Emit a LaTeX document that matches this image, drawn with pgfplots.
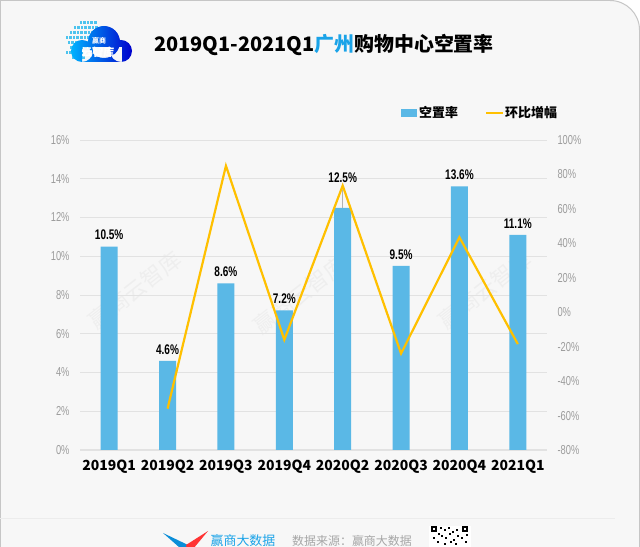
\documentclass[border=0pt]{standalone}
\usepackage{fontspec}
\usepackage{pgfplots}
\pgfplotsset{compat=1.18}
\setmainfont{Noto Sans CJK SC}
\newfontfamily\narrow[FakeStretch=0.72]{Liberation Sans}
\definecolor{barblue}{HTML}{5AB8E6}
\definecolor{linegold}{HTML}{FFC000}
\definecolor{titleblue}{HTML}{1AA3E8}
\definecolor{bggray}{HTML}{F7F7F7}
\definecolor{ticklab}{HTML}{9C9C9C}
\definecolor{gridc}{HTML}{E2E2E2}
\definecolor{dotcyan}{HTML}{4CC3EE}

\begin{document}
\begin{tikzpicture}[x=1bp,y=1bp]
\useasboundingbox (0,0) rectangle (640,547);
\clip (0,0) rectangle (640,547);
% frame
\fill[white] (0,0) rectangle (640,547);
\filldraw[fill=bggray, draw=gray!45, line width=1bp]
  (0.5,-5) -- (0.5,546.5) -- (610,546.5) arc[start angle=90, end angle=0, radius=29.5] -- (639.5,-5) -- cycle;

% watermarks
\foreach \px/\py in {135/257, 300/252, 485/257}
  \node[rotate=38, text=gray, opacity=0.07, font=\fontsize{22}{24}\selectfont] at (\px,\py) {赢商云智库};

% logo
\foreach \dx/\dy/\n in {76/523/5, 70/518/7, 66/513/8, 62/508/9, 64/503/7, 66/498/6, 62/493/5, 68/488/4}
  \foreach \k in {1,...,\n}
    \fill[dotcyan] ({\dx+3.6*\k},\dy) rectangle ++(2.6,2.6);
\shade[left color=cyan!70!blue, right color=blue!80!black]
  (104,505) circle (16) (121,496) circle (11) (82,496) circle (11) (82,485) rectangle (122,500);
\node[text=white, font=\fontsize{7}{8}\selectfont\bfseries] at (99,506) {赢商};
\node[text=white, font=\fontsize{11}{12}\selectfont\bfseries] at (98,495) {云智库};

% title
\node[font=\fontsize{20}{24}\selectfont\bfseries] at (324,502)
  {2019Q1-2021Q1\textcolor{titleblue}{广州}购物中心空置率};

% legend
\fill[barblue] (401,430) rectangle (417,438);
\node[anchor=west, inner sep=0, font=\fontsize{13}{15}\selectfont\bfseries] at (419,434) {空置率};
\draw[linegold, line width=2bp] (486,434) -- (503,434);
\node[anchor=west, inner sep=0, font=\fontsize{13}{15}\selectfont\bfseries] at (505,434) {环比增幅};

\begin{axis}[
  at={(80bp,97bp)}, anchor=south west,
  width=467bp, height=310bp, scale only axis,
  xmin=-0.5, xmax=7.5, ymin=0, ymax=16,
  axis x line*=bottom, axis y line*=left,
  y axis line style={draw=none},
  x axis line style={draw=gridc, line width=1bp},
  major tick length=0pt,
  ymajorgrids, grid style={gridc, line width=0.8bp},
  xtick={0,...,7},
  xticklabels={2019Q1,2019Q2,2019Q3,2019Q4,2020Q2,2020Q3,2020Q4,2021Q1},
  xticklabel style={font=\fontsize{14}{16}\selectfont\bfseries, text=black, yshift=-6bp},
  ytick={0,2,4,6,8,10,12,14,16},
  yticklabels={0\%,2\%,4\%,6\%,8\%,10\%,12\%,14\%,16\%},
  yticklabel style={font=\narrow\fontsize{13}{15}\selectfont, text=ticklab, xshift=-7bp},
  clip=false,
]
\addplot[ybar, bar width=17bp, fill=barblue, draw=none,
  point meta=explicit symbolic,
  nodes near coords={\pgfplotspointmeta},
  every node near coord/.append style={font=\narrow\bfseries\fontsize{14}{16}\selectfont, text=black, yshift=3bp}]
  coordinates {
  (0,10.5) [10.5\%]
  (1,4.6)  [4.6\%]
  (2,8.6)  [8.6\%]
  (3,7.2)  [7.2\%]
  (4,12.5) []
  (5,9.5)  [9.5\%]
  (6,13.6) [13.6\%]
  (7,11.1) [11.1\%]
};
\draw[gray!60, line width=0.6bp] (axis cs:4,12.5) -- (axis cs:4,13.4);
\addplot[draw=none, mark=none,
  point meta=explicit symbolic,
  nodes near coords={\pgfplotspointmeta},
  every node near coord/.append style={font=\narrow\bfseries\fontsize{14}{16}\selectfont, text=black, yshift=3bp}]
  coordinates {(4,13.45) [12.5\%]};
\end{axis}

\begin{axis}[
  at={(80bp,97bp)}, anchor=south west,
  width=467bp, height=310bp, scale only axis,
  xmin=-0.5, xmax=7.5, ymin=-80, ymax=100,
  axis x line=none, axis y line*=right,
  y axis line style={draw=none},
  major tick length=0pt,
  ytick={-80,-60,-40,-20,0,20,40,60,80,100},
  yticklabels={-80\%,-60\%,-40\%,-20\%,0\%,20\%,40\%,60\%,80\%,100\%},
  yticklabel style={font=\narrow\fontsize{13}{15}\selectfont, text=ticklab, xshift=7bp},
]
\addplot[linegold, line width=2.2bp, mark=none] coordinates {
  (1,-56) (2,85) (3,-16) (4,73.5) (5,-24) (6,43.5) (7,-18.5)
};
\end{axis}

% footer
\draw[gray!15, line width=1bp] (0,28) -- (615,28);
\fill[cyan!75!blue] (163,14) -- (188,2) -- (188,-8) -- cycle;
\fill[red!80] (208,16) -- (186,2) -- (188,-8) -- cycle;
\node[text=titleblue, font=\fontsize{13}{15}\selectfont] at (243,6) {赢商大数据};
\node[text=gray!70, font=\fontsize{12}{14}\selectfont] at (352,6) {数据来源：赢商大数据};
\fill[white] (429,0) rectangle (471,21);
\foreach \qx/\qy in {431/15, 433/15, 435/15, 431/17, 435/17, 431/19, 433/19, 435/19, 462/15, 464/15, 466/15, 462/17, 466/17, 462/19, 464/19, 466/19, 440/18, 444/16, 448/18, 452/14, 456/16, 441/10, 445/8, 449/12, 453/6, 457/10, 433/8, 437/4, 461/8, 465/4, 444/2, 450/4, 455/2, 438/12, 466/11}
  \fill[black] (\qx,\qy) rectangle ++(2.4,2.4);
\end{tikzpicture}
\end{document}
